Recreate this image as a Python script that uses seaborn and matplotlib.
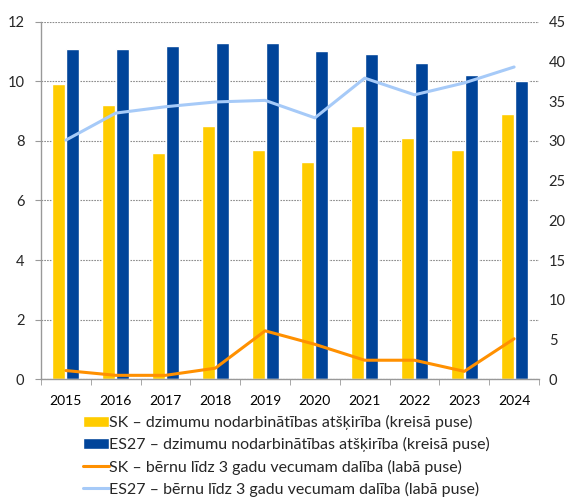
import numpy as np
import pandas as pd
import matplotlib
matplotlib.use('Agg')
import matplotlib.pyplot as plt
import seaborn as sns

# ---- data ----
years = ['2015', '2016', '2017', '2018', '2019', '2020', '2021', '2022', '2023', '2024']
sk_gap   = [9.9, 9.2, 7.6, 8.5, 7.7, 7.3, 8.5, 8.1, 7.7, 8.9]
eu_gap   = [11.1, 11.1, 11.2, 11.3, 11.3, 11.0, 10.9, 10.6, 10.2, 10.0]
sk_child = [1.1, 0.5, 0.5, 1.4, 6.1, 4.4, 2.4, 2.4, 1.0, 5.1]
eu_child = [30.1, 33.5, 34.3, 34.9, 35.1, 32.9, 37.9, 35.8, 37.3, 39.3]

lab_sk_gap   = 'SK – dzimumu nodarbinātības atšķirība (kreisā puse)'
lab_eu_gap   = 'ES27 – dzimumu nodarbinātības atšķirība (kreisā puse)'
lab_sk_child = 'SK – bērnu līdz 3 gadu vecumam dalība (labā puse)'
lab_eu_child = 'ES27 – bērnu līdz 3 gadu vecumam dalība (labā puse)'

my_pal = {lab_sk_gap: '#FFCC00', lab_eu_gap: '#00449A'}
c_sk_line = '#FF9000'
c_eu_line = '#A6CAF8'

sns.set_style('white')
plt.rcParams['font.family'] = ['Lato', 'DejaVu Sans']
plt.rcParams['font.size'] = 10

bars = pd.DataFrame({'Year': years * 2,
                     'Value': sk_gap + eu_gap,
                     'Series': [lab_sk_gap] * len(years) + [lab_eu_gap] * len(years)})

fig = plt.figure(figsize=(5.67, 4.98), dpi=100)
ax = fig.add_axes([41 / 567, 1 - 379.3 / 498, 498 / 567, 357.6 / 498])

sns.barplot(data=bars, x='Year', y='Value', hue='Series', palette=my_pal, saturation=1,
            width=0.56, gap=0.07, ax=ax, legend=True)

ax.set_ylim(0, 12)
ax.set_yticks(np.arange(0, 13, 2))
ax.set_xlim(-0.5, len(years) - 0.5)
ax.set_xlabel('')
ax.set_ylabel('')
ax.grid(axis='y', color='#8c8c8c', linestyle=(0, (1.5, 1)), linewidth=0.8)
ax.set_axisbelow(True)

# tick marks between categories
ax.set_xticks(np.arange(-0.5, len(years), 1), minor=True)
ax.tick_params(axis='x', which='major', length=0, pad=11, labelsize=10, colors='#000000')
ax.tick_params(axis='x', which='minor', length=4, color='#999999', direction='out', bottom=True)
ax.tick_params(axis='y', which='major', length=4, color='#999999', left=True, pad=8, labelsize=10.5)

for side in ['top', 'right']:
    ax.spines[side].set_visible(False)
for side in ['left', 'bottom']:
    ax.spines[side].set_color('#999999')
    ax.spines[side].set_linewidth(1)

ax2 = ax.twinx()
sns.lineplot(x=years, y=sk_child, color=c_sk_line, linewidth=2.2, ax=ax2, label=lab_sk_child)
sns.lineplot(x=years, y=eu_child, color=c_eu_line, linewidth=2.2, ax=ax2, label=lab_eu_child)
ax2.set_ylim(0, 45)
ax2.set_yticks(np.arange(0, 46, 5))
ax2.set_xlim(-0.5, len(years) - 0.5)
ax2.set_ylabel('')
ax2.tick_params(axis='y', length=0, pad=7, labelsize=10.5)
for side in ['top', 'right', 'left', 'bottom']:
    ax2.spines[side].set_visible(False)

# Combine legends below the plot
h1, l1 = ax.get_legend_handles_labels()
h2, l2 = ax2.get_legend_handles_labels()
ax.get_legend().remove()
ax2.get_legend().remove()
fig.legend(h1 + h2, l1 + l2, loc='upper left', bbox_to_anchor=(83 / 567, 1 - 415 / 498),
           frameon=False, fontsize=11.5, handlelength=1.6, handletextpad=0.0,
           borderpad=0, borderaxespad=0, labelspacing=0.45)

fig.savefig('out.png', dpi=100)
